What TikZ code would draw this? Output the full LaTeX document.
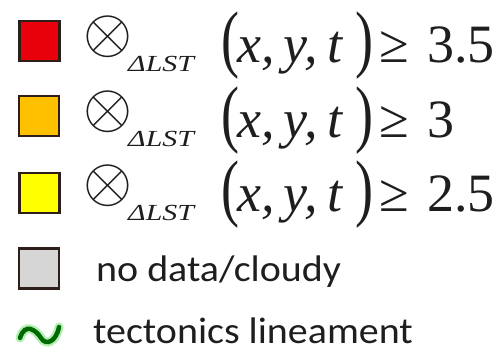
\documentclass[tikz,border=0pt]{standalone}
\usepackage{fontspec}
\usepackage{graphicx}
\setmainfont{Liberation Serif}
\newfontfamily\legsans{Carlito}
\definecolor{cred}{RGB}{232,0,10}
\definecolor{corange}{RGB}{255,192,0}
\definecolor{cyellow}{RGB}{255,255,0}
\definecolor{cgray}{RGB}{214,214,214}
\definecolor{cborder}{RGB}{45,30,25}
\definecolor{cwave}{RGB}{0,105,0}
\definecolor{cglow}{RGB}{90,220,90}
\definecolor{ctext}{RGB}{30,30,30}
\newcommand{\placeat}[2]{\makebox[0pt][l]{\hspace*{#1}#2}}
\newcommand{\lsform}[1]{%
  \fontsize{54}{54}\selectfont
  \placeat{-2pt}{\raisebox{10pt}{\fontsize{12}{14}\selectfont\scalebox{5.25}{$\otimes$}}}%
  \placeat{43pt}{\raisebox{-9pt}{\scalebox{1.3}[1]{\fontsize{23}{23}\selectfont\itshape ΔLST}}}%
  \placeat{136pt}{\raisebox{-1pt}{\scalebox{1}[1.38]{(}}}%
  \placeat{152pt}{\itshape x,\,y,\,t}%
  \placeat{270pt}{\raisebox{-1pt}{\scalebox{1}[1.38]{)}}}%
  \placeat{294pt}{≥}%
  \placeat{342pt}{#1}%
  \hspace*{410pt}}
\tikzset{
  legbox/.style={draw=cborder, line width=2.6pt, minimum width=40pt, minimum height=40pt, inner sep=0pt},
  formula/.style={anchor=base west, inner sep=0pt, text=ctext},
  sanslabel/.style={anchor=base west, inner sep=0pt, text=ctext, font=\legsans\fontsize{37}{37}\selectfont},
}
\begin{document}
\begin{tikzpicture}[x=1pt,y=-1pt]
  \fill[white] (0,0) rectangle (504,352);
  \useasboundingbox (0,0) rectangle (504,352);
  \node[legbox, fill=cred] (b1) at (39.5,41) {};
  \node[legbox, fill=corange] (b2) at (39,116) {};
  \node[legbox, fill=cyellow] (b3) at (39.5,193) {};
  \node[legbox, fill=cgray] (b4) at (39,268.5) {};
  \node[formula] (t1) at (85,63) {\lsform{3.5}};
  \node[formula] (t2) at (85,137.5) {\lsform{3}};
  \node[formula] (t3) at (85,212) {\lsform{2.5}};
  \node[sanslabel] (t4) at (96,282) {\scalebox{1.08}[1]{no data/cloudy}};
  \node[sanslabel] (t5) at (93,344) {\scalebox{1.08}[1]{tectonics lineament}};
  \coordinate (w0) at (20,338);
  \coordinate (w1) at (59,327);
  \draw[cglow, line width=9pt, line cap=round, opacity=0.45]
    (w0) .. controls (25,322) and (36,330) .. (41,338) .. controls (46,346) and (56,342) .. (w1);
  \draw[cwave, line width=4.5pt, line cap=round]
    (w0) .. controls (25,322) and (36,330) .. (41,338) .. controls (46,346) and (56,342) .. (w1);
\end{tikzpicture}
\end{document}
